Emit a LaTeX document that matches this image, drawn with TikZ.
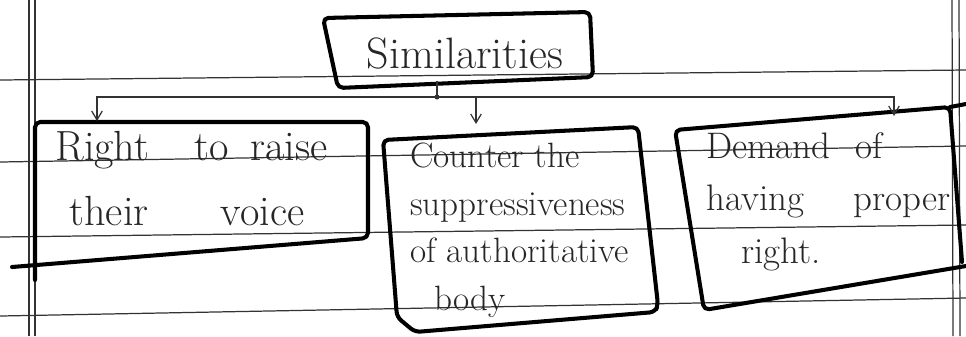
\documentclass[tikz,border=0pt]{standalone}
\usepackage{tikz}
\usetikzlibrary{arrows.meta,positioning}
\tikzset{
  ruling/.style={line width=0.7pt, black!80},
  boxline/.style={line width=2.3pt, line join=round, line cap=round, rounded corners=3pt},
  link/.style={line width=0.7pt, black!80},
  linkarrow/.style={link, -{Straight Barb[length=5pt,width=6pt]}},
  hand/.style={text=black!85, align=left, inner sep=0pt},
}
\begin{document}
\begin{tikzpicture}[x=0.2mm, y=-0.2mm]
    \useasboundingbox (0,0) rectangle (966,336);

    % Ruled paper
    \draw[ruling] (0,80) -- (966,70);
    \draw[ruling] (0,162) -- (966,146);
    \draw[ruling] (0,237) -- (966,225);
    \draw[ruling] (0,316) -- (966,298);
    \draw[ruling] (29,0) -- (29,336);
    \draw[ruling] (35,0) -- (35,336);
    \draw[ruling] (952,0) -- (953,336);
    \draw[ruling] (959,0) -- (960,336);

    % Similarities box
    \draw[boxline] (323,18) -- (590,12) -- (593,77) -- (338,88) -- cycle;
    \node[hand, anchor=base, font=\fontsize{25}{30}\selectfont] (sim) at (465,68) {Similarities};

    % Box 1
    \draw[boxline] (35,280) -- (35,122) -- (368,122) -- (368,238) -- (12,267);
    \node[hand, anchor=north west, font=\fontsize{24}{37}\selectfont] (voice) at (55,131)
        {Right\hspace{26pt}to\hspace{12pt}raise\\[0pt]\hspace{8pt}their\hspace{34pt} voice};

    % Box 2
    \draw[boxline] (397,317) -- (415,332) -- (655,312) -- (658,305) -- (638,127) -- (383,140) -- cycle;
    \node[hand, anchor=north west, font=\fontsize{20}{27}\selectfont] (counter) at (410,143)
        {Counter the\\suppressiveness\\of authoritative\\\hspace{14pt}body};

    % Box 3
    \draw[boxline] (962,262) -- (950,107) -- (675,130) -- (704,310) -- (966,266);
    \draw[boxline] (950,107) -- (966,104);
    \node[hand, anchor=north west, font=\fontsize{21}{30}\selectfont] (demand) at (706,132)
        {Demand\hspace{8pt} of\\having\hspace{22pt} proper\\\hspace{20pt}right.};

    % Connectors
    \coordinate (simFoot) at (437,81);
    \coordinate (split) at (437,97);
    \coordinate (voiceIn) at (97,121);
    \coordinate (counterIn) at (476,124);
    \coordinate (demandIn) at (894,116);
    \draw[link] (simFoot) -- (split);
    \fill[black!80] (split) circle (2.5);
    \draw[linkarrow] (split) -| (voiceIn);
    \draw[linkarrow] (split) -| (counterIn);
    \draw[linkarrow] (split) -| (demandIn);
\end{tikzpicture}
\end{document}
